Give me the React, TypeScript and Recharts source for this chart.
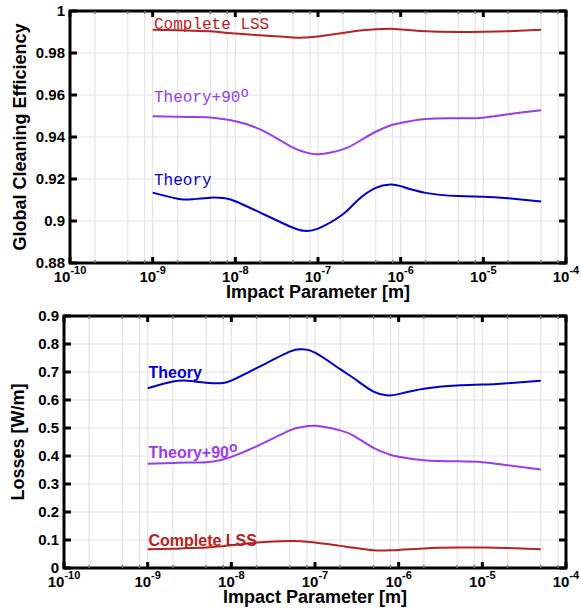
import React from 'react';
import { LineChart, Line, XAxis, YAxis, CartesianGrid, ReferenceArea, Label } from 'recharts';

// impact parameter [m]
const impactParam = [
  1e-9, 2e-9, 3e-9, 5e-9, 7.5e-9, 1e-8, 2e-8, 5e-8, 7e-8, 1e-7,
  2e-7, 3e-7, 5e-7, 7.5e-7, 1e-6, 2e-6, 5e-6, 1e-5, 2e-5, 5e-5,
];

// global cleaning efficiency
const effLss = [
  0.9911, 0.9908, 0.9906, 0.9903, 0.9897, 0.9893, 0.9884, 0.9874, 0.9874, 0.9879,
  0.9895, 0.9906, 0.9913, 0.9915, 0.9912, 0.9903, 0.99, 0.9901, 0.9904, 0.9911,
];
const effTheory90 = [
  0.9499, 0.9496, 0.9495, 0.9493, 0.9484, 0.9475, 0.9436, 0.9349, 0.9328, 0.9318,
  0.9341, 0.9375, 0.9425, 0.9455, 0.9467, 0.9486, 0.9489, 0.9492, 0.9508, 0.9527,
];
const effTheory = [
  0.9135, 0.9106, 0.9103, 0.9111, 0.9108, 0.9094, 0.904, 0.8968, 0.8953, 0.8964,
  0.9032, 0.9098, 0.9158, 0.9174, 0.9166, 0.9134, 0.9119, 0.9116, 0.9108, 0.9093,
];

// losses [W/m]
const lossTheory = [
  0.642, 0.666, 0.669, 0.662, 0.66, 0.669, 0.7135, 0.773, 0.781, 0.769,
  0.71, 0.675, 0.63, 0.616, 0.621, 0.64, 0.652, 0.655, 0.66, 0.669,
];
const lossTheory90 = [
  0.372, 0.375, 0.377, 0.378, 0.386, 0.397, 0.4345, 0.4915, 0.503, 0.508,
  0.4915, 0.47, 0.429, 0.407, 0.397, 0.385, 0.381, 0.378, 0.367, 0.352,
];
const lossLss = [
  0.067, 0.069, 0.071, 0.073, 0.078, 0.081, 0.0907, 0.0964, 0.095, 0.0907,
  0.079, 0.072, 0.0633, 0.063, 0.0645, 0.07, 0.073, 0.073, 0.0716, 0.067,
];

const xTicks = [
  1e-10, 2e-10, 5e-10, 8e-10,
  1e-9, 2e-9, 5e-9, 8e-9,
  1e-8, 2e-8, 5e-8, 8e-8,
  1e-7, 2e-7, 5e-7, 8e-7,
  1e-6, 2e-6, 5e-6, 8e-6,
  1e-5, 2e-5, 5e-5, 8e-5,
  1e-4,
];
const effTicks = [0.88, 0.9, 0.92, 0.94, 0.96, 0.98, 1];
const lossTicks = [0, 0.1, 0.2, 0.3, 0.4, 0.5, 0.6, 0.7, 0.8, 0.9];

const RED = '#b42222';
const PURPLE = '#9a3cec';
const BLUE = '#0000cc';
const SANS = '"Liberation Sans", Arial, sans-serif';
const MONO = '"Liberation Mono", "Courier New", monospace';

const effData = impactParam.map((x, i) => ({
  x,
  lss: effLss[i],
  t90: effTheory90[i],
  theory: effTheory[i],
}));
const lossData = impactParam.map((x, i) => ({
  x,
  lss: lossLss[i],
  t90: lossTheory90[i],
  theory: lossTheory[i],
}));

const isDecade = (v: number) => {
  const l = Math.log10(v);
  return Math.abs(l - Math.round(l)) < 1e-6;
};

const BottomTick = ({ x, y, payload }: any) => {
  const major = isDecade(payload.value);
  const exp = Math.round(Math.log10(payload.value));
  return (
    <g>
      <line
        x1={x} x2={x} y1={y} y2={y - (major ? 6 : 3)}
        stroke={major ? '#000' : '#777'} strokeWidth={major ? 3 : 1.5}
      />
      {major && (
        <text x={x} y={y + 19} textAnchor="middle" fontFamily={SANS} fontWeight="bold" fontSize={15} fill="#000">
          10<tspan dy={-8} fontSize={11}>{exp}</tspan>
        </text>
      )}
    </g>
  );
};

const TopTick = ({ x, y, payload }: any) => {
  const major = isDecade(payload.value);
  return (
    <line
      x1={x} x2={x} y1={y} y2={y + (major ? 6 : 3)}
      stroke={major ? '#000' : '#777'} strokeWidth={major ? 3 : 1.5}
    />
  );
};

const LeftTick = ({ x, y, payload }: any) => (
  <g>
    <line x1={x} x2={x + 7} y1={y} y2={y} stroke="#000" strokeWidth={3} />
    <text x={x - 5} y={y} dy="0.36em" textAnchor="end" fontFamily={SANS} fontWeight="bold" fontSize={15} fill="#000">
      {String(payload.value)}
    </text>
  </g>
);

const RightTick = ({ x, y }: any) => (
  <line x1={x - 7} x2={x} y1={y} y2={y} stroke="#000" strokeWidth={3} />
);

const XTitle = ({ viewBox }: any) => (
  <text
    x={viewBox.x + viewBox.width / 2}
    y={viewBox.y + viewBox.height - 1}
    textAnchor="middle" fontFamily={SANS} fontWeight="bold" fontSize={18} fill="#000"
  >
    Impact Parameter [m]
  </text>
);

const makeYTitle = (text: string, dx: number) => ({ viewBox }: any) => {
  const cx = viewBox.x + dx;
  const cy = viewBox.y + viewBox.height / 2;
  return (
    <text
      x={cx} y={cy} dy="0.36em" transform={`rotate(-90 ${cx} ${cy})`}
      textAnchor="middle" fontFamily={SANS} fontWeight="bold" fontSize={18} fill="#000"
    >
      {text}
    </text>
  );
};

interface PanelProps {
  data: any[];
  height: number;
  marginTop: number;
  marginBottom: number;
  yWidth: number;
  domain: [number, number];
  yTicks: number[];
  yTitle: string;
  yTitleX: number;
  children?: React.ReactNode;
}

function Panel({ data, height, marginTop, marginBottom, yWidth, domain, yTicks, yTitle, yTitleX, children }: PanelProps) {
  return (
    <LineChart
      width={581}
      height={height}
      data={data}
      margin={{ top: marginTop, right: 14, bottom: marginBottom, left: 0 }}
      style={{ display: 'block' }}
    >
      <CartesianGrid stroke="#e6e2e6" strokeWidth={1.2} />
      <XAxis
        dataKey="x" type="number" scale="log" domain={[1e-10, 1e-4]} allowDataOverflow
        ticks={xTicks} interval={0} height={36} tickSize={0} tickMargin={0}
        axisLine={false} tickLine={false} tick={<BottomTick />}
      >
        <Label content={<XTitle />} />
      </XAxis>
      <XAxis
        xAxisId="top" orientation="top" dataKey="x" type="number" scale="log"
        domain={[1e-10, 1e-4]} allowDataOverflow ticks={xTicks} interval={0}
        height={1} tickSize={0} tickMargin={0} axisLine={false} tickLine={false} tick={<TopTick />}
      />
      <YAxis
        type="number" domain={domain} ticks={yTicks} interval={0} allowDataOverflow
        width={yWidth} tickSize={0} tickMargin={0} axisLine={false} tickLine={false} tick={<LeftTick />}
      >
        <Label content={makeYTitle(yTitle, yTitleX)} />
      </YAxis>
      <YAxis
        yAxisId="right" orientation="right" type="number" domain={domain} ticks={yTicks}
        interval={0} allowDataOverflow width={1} tickSize={0} tickMargin={0}
        axisLine={false} tickLine={false} tick={<RightTick />}
      />
      <Line dataKey="lss" type="natural" stroke={RED} strokeWidth={2} dot={false} isAnimationActive={false} />
      <Line dataKey="t90" type="natural" stroke={PURPLE} strokeWidth={2} dot={false} isAnimationActive={false} />
      <Line dataKey="theory" type="natural" stroke={BLUE} strokeWidth={2} dot={false} isAnimationActive={false} />
      <ReferenceArea
        x1={1e-10} x2={1e-4} y1={domain[0]} y2={domain[1]}
        fill="none" fillOpacity={0} stroke="#000" strokeWidth={3} strokeOpacity={1}
      />
      {children}
    </LineChart>
  );
}

export default function App() {
  return (
    <div style={{ position: 'absolute', left: 0, top: 0, width: 581, height: 609, background: '#fff' }}>
      <Panel
        data={effData} height={302} marginTop={10} marginBottom={3} yWidth={70}
        domain={[0.88, 1]} yTicks={effTicks} yTitle="Global Cleaning Efficiency" yTitleX={20}
      >
        <text x={154} y={29} fontFamily={MONO} fontSize={16} fill={RED}>Complete LSS</text>
        <text x={154} y={102} fontFamily={MONO} fontSize={16} fill={PURPLE}>
          Theory+90<tspan dy={-5} fontSize={14}>o</tspan>
        </text>
        <text x={154} y={185} fontFamily={MONO} fontSize={16} fill={BLUE}>Theory</text>
      </Panel>
      <Panel
        data={lossData} height={307} marginTop={13} marginBottom={5} yWidth={64}
        domain={[0, 0.9]} yTicks={lossTicks} yTitle="Losses [W/m]" yTitleX={18}
      >
        <text x={148.5} y={76} fontFamily={SANS} fontWeight="bold" fontSize={16} fill={BLUE}>Theory</text>
        <text x={148.5} y={156} fontFamily={SANS} fontWeight="bold" fontSize={16} fill={PURPLE}>
          Theory+90<tspan dy={-6} fontSize={14}>o</tspan>
        </text>
        <text x={148.5} y={244} fontFamily={SANS} fontWeight="bold" fontSize={16} fill={RED}>Complete LSS</text>
      </Panel>
    </div>
  );
}
